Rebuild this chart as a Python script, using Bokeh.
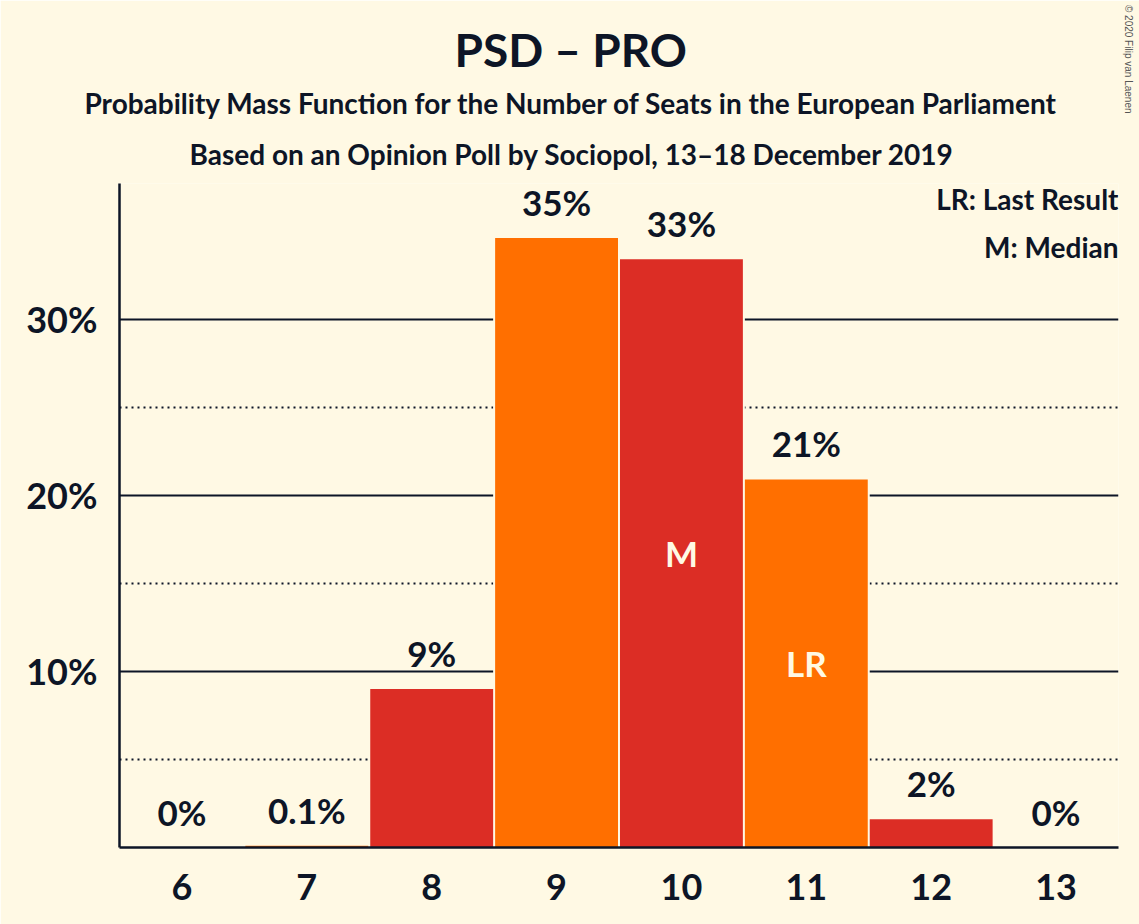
from bokeh.plotting import figure
from bokeh.models import ColumnDataSource, FixedTicker, Grid, Label, PrintfTickFormatter, Title
from bokeh.core.properties import value
from bokeh.embed import file_html
from bokeh.resources import INLINE

# data
seats = [6, 7, 8, 9, 10, 11, 12, 13]
probability = [0.0, 0.1, 9.0, 34.6, 33.4, 20.9, 1.6, 0.0]
prob_labels = ["0%", "0.1%", "9%", "35%", "33%", "21%", "2%", "0%"]
median_seat = 10
last_result_seat = 11

title = "PSD – PRO"
subtitle1 = "Probability Mass Function for the Number of Seats in the European Parliament"
subtitle2 = "Based on an Opinion Poll by Sociopol, 13–18 December 2019"
copyright_text = "© 2020 Filip van Laenen"

BG = "#FFF9E4"
INK = "#0D1526"
ORANGE = "#FF6F00"
RED = "#DC2D25"
FONT = "Lato"

colors = [RED if s % 2 == 0 else ORANGE for s in seats]
source = ColumnDataSource(dict(seats=seats, prob=probability, label=prob_labels, color=colors))

p = figure(width=1139, height=924, x_range=(5.5, 13.5), y_range=(0, 37.7),
           output_backend="svg", toolbar_location=None,
           min_border_left=119, min_border_right=20, min_border_top=183, min_border_bottom=77)
p.background_fill_color = BG
p.border_fill_color = BG
p.outline_line_color = None

# titles: added "above" titles stack outward from the plot, p.title stays outermost
# (left aligned with an offset so they are centred on the whole page, not the frame)
p.add_layout(Title(text=subtitle2, align="left", offset=70, text_font=FONT,
                   text_font_size="28px", text_color=INK, standoff=26), "above")
p.add_layout(Title(text=subtitle1, align="left", offset=-35, text_font=FONT,
                   text_font_size="28px", text_color=INK, standoff=4), "above")
p.title.text = title
p.title.align = "left"
p.title.offset = 335
p.title.text_font = FONT
p.title.text_font_size = "46px"
p.title.text_color = INK
p.title.standoff = 9
p.add_layout(Title(text=copyright_text, align="right", offset=734, text_font="Liberation Sans",
                   text_font_style="normal", text_font_size="10px", text_color="#555555",
                   standoff=8), "right")

# grid: solid at 10/20/30, dotted at 5/15/25
p.xgrid.visible = False
p.ygrid.ticker = FixedTicker(ticks=[10, 20, 30])
p.ygrid.grid_line_color = INK
p.ygrid.grid_line_width = 2
dotted = Grid(dimension=1, ticker=FixedTicker(ticks=[5, 15, 25]),
              grid_line_color=INK, grid_line_width=2, grid_line_dash="2 4")
p.add_layout(dotted)

# background-coloured halo behind bars breaks the grid lines beside them
p.vbar(x="seats", top="prob", width=1.016, source=source,
       fill_color=BG, line_color=None)
p.vbar(x="seats", top="prob", width=0.984, source=source,
       fill_color="color", line_color=None)

# value labels
p.text(x="seats", y="prob", text="label", source=source,
       text_font=value(FONT), text_font_style="bold", text_font_size="35px",
       text_color=INK, text_align="center", text_baseline="alphabetic", y_offset=-36)

# M / LR markers inside bars
marks = ColumnDataSource(dict(
    x=[median_seat, last_result_seat],
    y=[probability[seats.index(median_seat)] / 2, probability[seats.index(last_result_seat)] / 2],
    t=["M", "LR"]))
p.text(x="x", y="y", text="t", source=marks,
       text_font=value(FONT), text_font_style="bold", text_font_size="35px",
       text_color=BG, text_align="center", text_baseline="middle")

# axes
p.xaxis.ticker = FixedTicker(ticks=seats)
p.yaxis.ticker = FixedTicker(ticks=[10, 20, 30])
p.yaxis.formatter = PrintfTickFormatter(format="%d%%")
for ax in (p.xaxis[0], p.yaxis[0]):
    ax.axis_line_color = INK
    ax.axis_line_width = 2.5
    ax.major_tick_line_color = None
    ax.minor_tick_line_color = None
    ax.major_label_text_font = FONT
    ax.major_label_text_font_style = "bold"
    ax.major_label_text_font_size = "36px"
    ax.major_label_text_color = INK
p.xaxis.major_label_standoff = 20
p.yaxis.major_label_standoff = 16

# legend text
for y, text in [(36.8, "LR: Last Result"), (34.1, "M: Median")]:
    p.add_layout(Label(x=13.5, y=y, text=text, text_font=FONT, text_font_style="bold",
                       text_font_size="28px", text_color=INK, text_align="right",
                       text_baseline="middle"))

open("out.html", "w").write(file_html(p, INLINE))
